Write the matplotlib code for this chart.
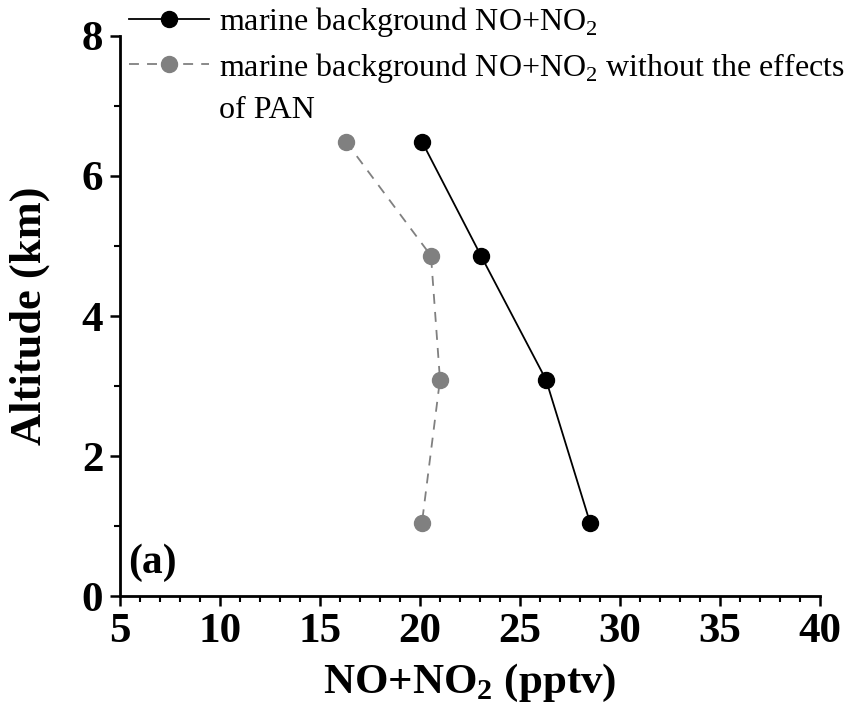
import matplotlib
matplotlib.use('Agg')
import matplotlib.pyplot as plt
from matplotlib.ticker import MultipleLocator

plt.rcParams['font.family'] = ['Liberation Serif', 'DejaVu Serif']
plt.rcParams['mathtext.fontset'] = 'custom'
plt.rcParams['mathtext.rm'] = 'Liberation Serif'
plt.rcParams['mathtext.bf'] = 'Liberation Serif:bold'

# data
altitude = [6.49, 4.86, 3.09, 1.05]
nox_marine = [20.1, 23.05, 26.3, 28.5]
nox_no_pan = [16.3, 20.55, 21.0, 20.1]

x_ticks = [5, 10, 15, 20, 25, 30, 35, 40]
y_ticks = [0, 2, 4, 6, 8]

fig = plt.figure(figsize=(8.6, 7.19), dpi=100)
ax = fig.add_axes([0.1395, 0.171, 0.814, 0.779])

ax.plot(nox_marine, altitude, color='black', linestyle='-', linewidth=1.3,
        marker='o', markersize=11.5, label=r'marine background NO+NO$_\mathrm{2}$')
ax.plot(nox_no_pan, altitude, color='#808080', linestyle=(0, (5.5, 4.5)), linewidth=1.3,
        marker='o', markersize=11.5,
        label=r'marine background NO+NO$_\mathrm{2}$ without the effects')
# second line of the grey legend label, with no handle
ax.plot([], [], color='none', label='of PAN')

ax.set_xlim(5, 40)
ax.set_ylim(0, 8)
ax.set_xticks(x_ticks)
ax.set_yticks(y_ticks)
ax.xaxis.set_minor_locator(MultipleLocator(1))
ax.yaxis.set_minor_locator(MultipleLocator(1))

ax.spines['top'].set_visible(False)
ax.spines['right'].set_visible(False)
for side in ['left', 'bottom']:
    ax.spines[side].set_linewidth(2)

ax.tick_params(which='major', direction='out', length=7, width=1.8,
               labelsize=31, pad=5)
ax.tick_params(which='minor', direction='out', length=4, width=1.5)
for lab in ax.get_xticklabels() + ax.get_yticklabels():
    lab.set_fontweight('bold')

ax.set_xlabel(r'NO+NO$_\mathbf{2}$ (pptv)', fontsize=31, fontweight='bold', labelpad=8)
ax.set_ylabel('Altitude (km)', fontsize=32, fontweight='bold')
ax.yaxis.set_label_coords(-0.1, 0.5)

ax.text(0.012, 0.025, '(a)', transform=ax.transAxes, fontsize=30, fontweight='bold',
        ha='left', va='bottom')

ax.legend(loc='upper left', bbox_to_anchor=(-0.005, 1.078), frameon=False,
          fontsize=23, handlelength=2.5, handletextpad=0.3, labelspacing=0.36,
          borderaxespad=0)

fig.savefig('out.png', dpi=100)
